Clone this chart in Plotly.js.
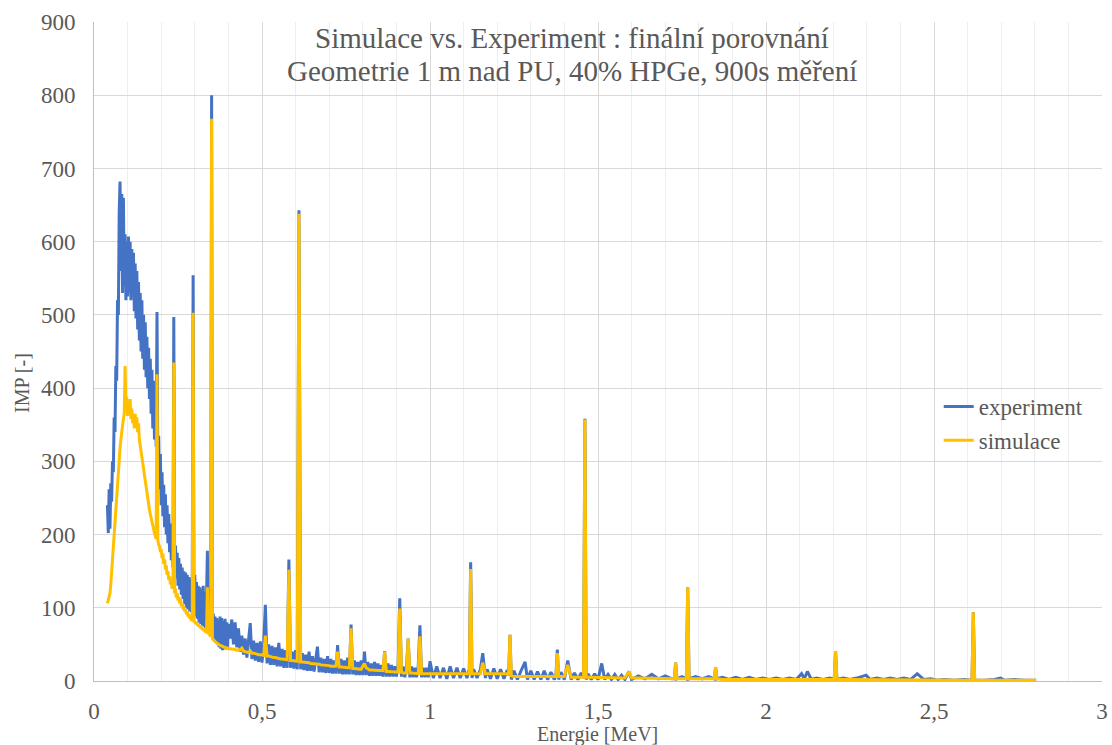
<!DOCTYPE html>
<html>
<head>
<meta charset="utf-8">
<script src="https://cdn.plot.ly/plotly-3.0.1.min.js"></script>
<style>html,body{margin:0;padding:0;background:#fff;}#chart{width:1112px;height:745px;}</style>
</head>
<body>
<div id="chart"></div>
<script>
// Segment A: 0.04 - 0.40 MeV
const energyLow = [
0.0400,0.0425,0.0450,0.0475,0.0500,0.0525,0.0550,0.0575,0.0600,0.0625,
0.0650,0.0675,0.0700,0.0725,0.0750,0.0775,0.0800,0.0825,0.0850,0.0875,
0.0900,0.0925,0.0950,0.0975,0.1000,0.1025,0.1050,0.1075,0.1100,0.1125,
0.1150,0.1175,0.1200,0.1225,0.1250,0.1275,0.1300,0.1325,0.1350,0.1375,
0.1400,0.1425,0.1450,0.1475,0.1500,0.1525,0.1550,0.1575,0.1600,0.1625,
0.1650,0.1675,0.1700,0.1725,0.1750,0.1775,0.1800,0.1825,0.1850,0.1875,
0.1900,0.1925,0.1950,0.1975,0.2000,0.2025,0.2050,0.2075,0.2100,0.2125,
0.2150,0.2175,0.2200,0.2225,0.2250,0.2275,0.2300,0.2325,0.2350,0.2375,
0.2400,0.2425,0.2450,0.2475,0.2500,0.2525,0.2550,0.2575,0.2600,0.2625,
0.2650,0.2675,0.2700,0.2725,0.2750,0.2775,0.2800,0.2825,0.2850,0.2875,
0.2900,0.2925,0.2950,0.2975,0.3000,0.3025,0.3050,0.3075,0.3100,0.3125,
0.3150,0.3175,0.3200,0.3225,0.3250,0.3275,0.3300,0.3325,0.3350,0.3375,
0.3400,0.3425,0.3450,0.3475,0.3500,0.3525,0.3550,0.3575,0.3600,0.3625,
0.3650,0.3675,0.3700,0.3725,0.3750,0.3775,0.3800,0.3825,0.3850,0.3875,
0.3900,0.3925,0.3950,0.3975,0.4000];
const expLow = [
240,202,262,208,270,245,300,285,360,340,
430,410,520,500,640,682,560,665,530,660,
540,610,520,600,525,607,530,600,520,590,
525,585,505,570,495,560,480,545,465,530,
450,520,440,500,425,490,415,470,400,455,
385,440,365,425,345,410,330,395,320,504,
290,335,262,310,240,285,225,268,210,255,
200,240,188,228,176,215,165,200,155,497,
150,185,140,175,130,168,125,160,118,155,
112,150,105,148,100,145,98,142,95,140,
94,138,554,92,145,88,135,85,130,80,
128,78,125,76,130,74,122,72,118,178,
68,110,64,100,800,58,92,55,88,52,
86,50,84,46,88,44,86,42,82,44,
85,43,80,44,78];
const simLow = [
106,110,113,120,132,150,170,186,200,215,
235,255,272,290,305,318,330,342,350,358,
365,430,372,388,362,380,368,385,358,372,
352,362,345,365,350,360,340,352,330,322,
310,302,292,285,276,268,260,254,246,240,
234,228,222,217,212,207,202,198,194,419,
192,186,184,176,180,168,174,160,166,152,
158,145,150,138,143,132,138,126,132,435,
120,126,114,120,110,115,106,112,102,106,
98,102,95,98,91,95,88,92,85,88,
82,85,503,80,82,78,80,76,78,74,
76,72,74,70,72,68,70,66,68,128,
64,65,62,62,768,58,56,55,54,53,
52,51,50,50,49,48,48,47,47,46,
46,45,45,45,44];

// Segment B: 0.405 - 1.000 MeV
const energyMid = [
0.405,0.410,0.415,0.420,0.425,0.430,0.435,0.440,0.445,0.450,
0.455,0.460,0.465,0.470,0.475,0.480,0.485,0.490,0.495,0.500,
0.505,0.510,0.515,0.520,0.525,0.530,0.535,0.540,0.545,0.550,
0.555,0.560,0.565,0.570,0.575,0.580,0.585,0.590,0.595,0.600,
0.605,0.610,0.615,0.620,0.625,0.630,0.635,0.640,0.645,0.650,
0.655,0.660,0.665,0.670,0.675,0.680,0.685,0.690,0.695,0.700,
0.705,0.710,0.715,0.720,0.725,0.730,0.735,0.740,0.745,0.750,
0.755,0.760,0.765,0.770,0.775,0.780,0.785,0.790,0.795,0.800,
0.805,0.810,0.815,0.820,0.825,0.830,0.835,0.840,0.845,0.850,
0.855,0.860,0.865,0.870,0.875,0.880,0.885,0.890,0.895,0.900,
0.905,0.910,0.915,0.920,0.925,0.930,0.935,0.940,0.945,0.950,
0.955,0.960,0.965,0.970,0.975,0.980,0.985,0.990,0.995,1.000];
const expMid = [
58,84,50,80,46,72,40,62,36,58,
32,56,79,30,55,28,52,26,54,25,
50,104,24,50,22,48,22,46,20,52,
20,44,18,42,18,166,18,40,17,42,
16,643,16,38,15,36,14,40,14,34,
13,30,47,12,32,12,30,11,34,11,
30,10,28,10,49,10,30,9,28,9,
32,9,77,9,28,8,26,8,28,8,
40,8,26,7,24,7,26,7,24,7,
22,6,41,6,24,6,22,6,20,6,
20,113,6,20,5,18,58,5,20,5,
18,5,20,76,5,18,5,18,5,27];
const simMid = [
44,44,43,43,42,42,43,45,41,40,
40,39,41,38,38,37,37,36,36,35,
35,62,34,34,33,33,32,32,31,31,
30,30,30,29,29,152,28,28,28,27,
27,638,26,26,26,25,25,25,24,24,
24,23,23,23,22,22,22,21,21,21,
20,20,20,20,40,19,19,19,18,18,
18,18,72,17,17,17,17,16,16,20,
24,18,16,15,15,15,15,14,14,14,
14,14,40,13,13,13,13,12,12,12,
12,99,12,11,11,11,58,11,11,11,
10,10,10,61,10,10,10,10,10,10];

// Segment C1: 1.01 - 1.60 MeV
const energyHigh1 = [
1.010,1.020,1.030,1.040,1.050,1.060,1.070,1.080,1.090,1.100,
1.110,1.117,1.121,1.125,1.130,1.140,1.150,1.157,1.165,1.170,
1.180,1.190,1.200,1.210,1.220,1.230,1.234,1.238,1.242,1.250,
1.260,1.270,1.283,1.290,1.300,1.310,1.320,1.330,1.340,1.350,
1.360,1.370,1.375,1.379,1.383,1.390,1.400,1.410,1.420,1.430,
1.440,1.450,1.457,1.461,1.465,1.470,1.480,1.490,1.500,1.511,
1.520,1.530,1.540,1.550,1.560,1.570,1.580,1.592,1.600];
const expHigh1 = [
4,20,4,18,3,20,4,18,4,17,
4,16,162,4,16,4,16,38,4,16,
3,17,3,16,3,15,8,63,2,14,
2,13,26,2,14,2,13,2,14,2,
12,2,10,43,2,12,2,28,2,11,
2,11,4,358,2,10,2,10,2,24,
2,9,2,9,2,8,2,13,2];
const simHigh1 = [
10,10,10,10,10,10,10,10,10,10,
10,10,153,10,10,10,10,25,10,10,
10,10,10,10,10,10,10,63,7,6,
6,6,6,6,6,6,6,6,6,6,
6,6,6,38,6,6,6,22,5,5,
5,5,5,357,5,5,5,5,5,5,
5,4,4,4,4,4,4,13,4];

// Segment C2: 1.62 - 2.80 MeV
const energyHigh2 = [
1.620,1.640,1.660,1.680,1.700,1.720,1.727,1.731,1.735,1.750,
1.763,1.767,1.771,1.790,1.810,1.830,1.846,1.850,1.854,1.870,
1.890,1.910,1.930,1.950,1.970,1.990,2.010,2.030,2.050,2.070,
2.090,2.106,2.114,2.123,2.135,2.150,2.170,2.190,2.203,2.207,
2.211,2.230,2.250,2.270,2.298,2.310,2.330,2.350,2.370,2.390,
2.410,2.430,2.450,2.470,2.490,2.510,2.530,2.560,2.590,2.613,
2.617,2.621,2.650,2.680,2.698,2.710,2.740,2.770,2.804];
const expHigh2 = [
7,3,9,3,7,3,3,25,3,6,
3,128,3,6,3,6,3,19,3,5,
2,5,2,5,2,4,2,4,2,4,
2,10,3,13,2,4,2,4,2,41,
2,4,2,4,8,2,4,2,4,2,
4,2,10,2,3,1,2,1,2,1,
94,1,1,2,4,1,2,1,1];
const simHigh2 = [
4,4,4,4,3,3,3,25,3,3,
3,128,3,3,3,3,3,19,3,2,
2,2,2,2,2,2,2,2,2,2,
2,2,2,2,2,2,2,2,2,41,
2,2,2,2,2,2,2,2,2,2,
2,2,2,2,1,1,1,1,1,1,
94,1,1,1,1,1,1,1,1];

const seriesNames = ['experiment', 'simulace'];
const titleLines = ['Simulace vs. Experiment : finální porovnání', 'Geometrie 1 m nad PU, 40% HPGe, 900s měření'];
const xTitle = 'Energie [MeV]';
const yTitle = 'IMP [-]';

[[energyLow, expLow, simLow], [energyMid, expMid, simMid], [energyHigh1, expHigh1, simHigh1], [energyHigh2, expHigh2, simHigh2]]
  .forEach(function (s, i) {
    if (s[0].length !== s[1].length || s[0].length !== s[2].length) {
      throw new Error('segment ' + i + ' lengths ' + s[0].length + ' ' + s[1].length + ' ' + s[2].length);
    }
  });

const energy = energyLow.concat(energyMid, energyHigh1, energyHigh2);
const experiment = expLow.concat(expMid, expHigh1, expHigh2);
const simulation = simLow.concat(simMid, simHigh1, simHigh2);

const serif = 'Liberation Serif, Times New Roman, serif';
const grey = '#595959';

const traces = [
  {x: energy, y: experiment, name: seriesNames[0], legendgroup: 'a', type: 'scatter', mode: 'lines',
   line: {color: '#4472C4', width: 3}},
  {x: energy, y: simulation, name: seriesNames[1], legendgroup: 'b', type: 'scatter', mode: 'lines',
   line: {color: '#FFC000', width: 3}}
];

// paper-coordinate helpers relative to plot area (l=94, r=1102, t=22, b=681)
function px(xp) { return (xp - 94) / 1008; }
function py(yp) { return (681 - yp) / 659; }

const layout = {
  width: 1112, height: 745,
  separators: ', ',
  paper_bgcolor: '#ffffff', plot_bgcolor: '#ffffff',
  margin: {l: 94, r: 10, t: 22, b: 64},
  font: {family: serif, color: grey, size: 23},
  showlegend: true,
  legend: {x: 0.838, y: py(385), xanchor: 'left', yanchor: 'top', bgcolor: 'rgba(0,0,0,0)',
           font: {family: serif, size: 23, color: grey}, tracegroupgap: 1},
  xaxis: {range: [0, 3], dtick: 0.5, tick0: 0, showgrid: true, gridcolor: '#d9d9d9', gridwidth: 1,
          minor: {dtick: 0.1, showgrid: true, gridcolor: '#eeeeee', gridwidth: 1},
          showline: true, linecolor: '#bfbfbf', linewidth: 1, zeroline: false,
          ticks: '', ticklabelstandoff: 9,
          tickfont: {family: serif, size: 23, color: grey}},
  yaxis: {range: [0, 900], dtick: 100, showgrid: true, gridcolor: '#d9d9d9', gridwidth: 1,
          showline: true, linecolor: '#bfbfbf', linewidth: 1, zeroline: false,
          ticks: '', ticklabelstandoff: 13,
          tickfont: {family: serif, size: 23, color: grey}},
  annotations: [
    {text: titleLines[0], xref: 'paper', yref: 'paper', x: px(572), y: py(38), xanchor: 'center', yanchor: 'middle',
     showarrow: false, font: {family: serif, size: 29, color: grey}},
    {text: titleLines[1], xref: 'paper', yref: 'paper', x: px(572), y: py(71), xanchor: 'center', yanchor: 'middle',
     showarrow: false, font: {family: serif, size: 29, color: grey}},
    {text: xTitle, xref: 'paper', yref: 'paper', x: px(597), y: py(735), xanchor: 'center', yanchor: 'middle',
     showarrow: false, font: {family: serif, size: 20, color: grey}},
    {text: yTitle, xref: 'paper', yref: 'paper', x: px(22), y: py(383), xanchor: 'center', yanchor: 'middle',
     textangle: -90, showarrow: false, font: {family: serif, size: 20, color: grey}}
  ]
};

Plotly.newPlot('chart', traces, layout, {displayModeBar: false, responsive: false});
</script>
</body>
</html>
